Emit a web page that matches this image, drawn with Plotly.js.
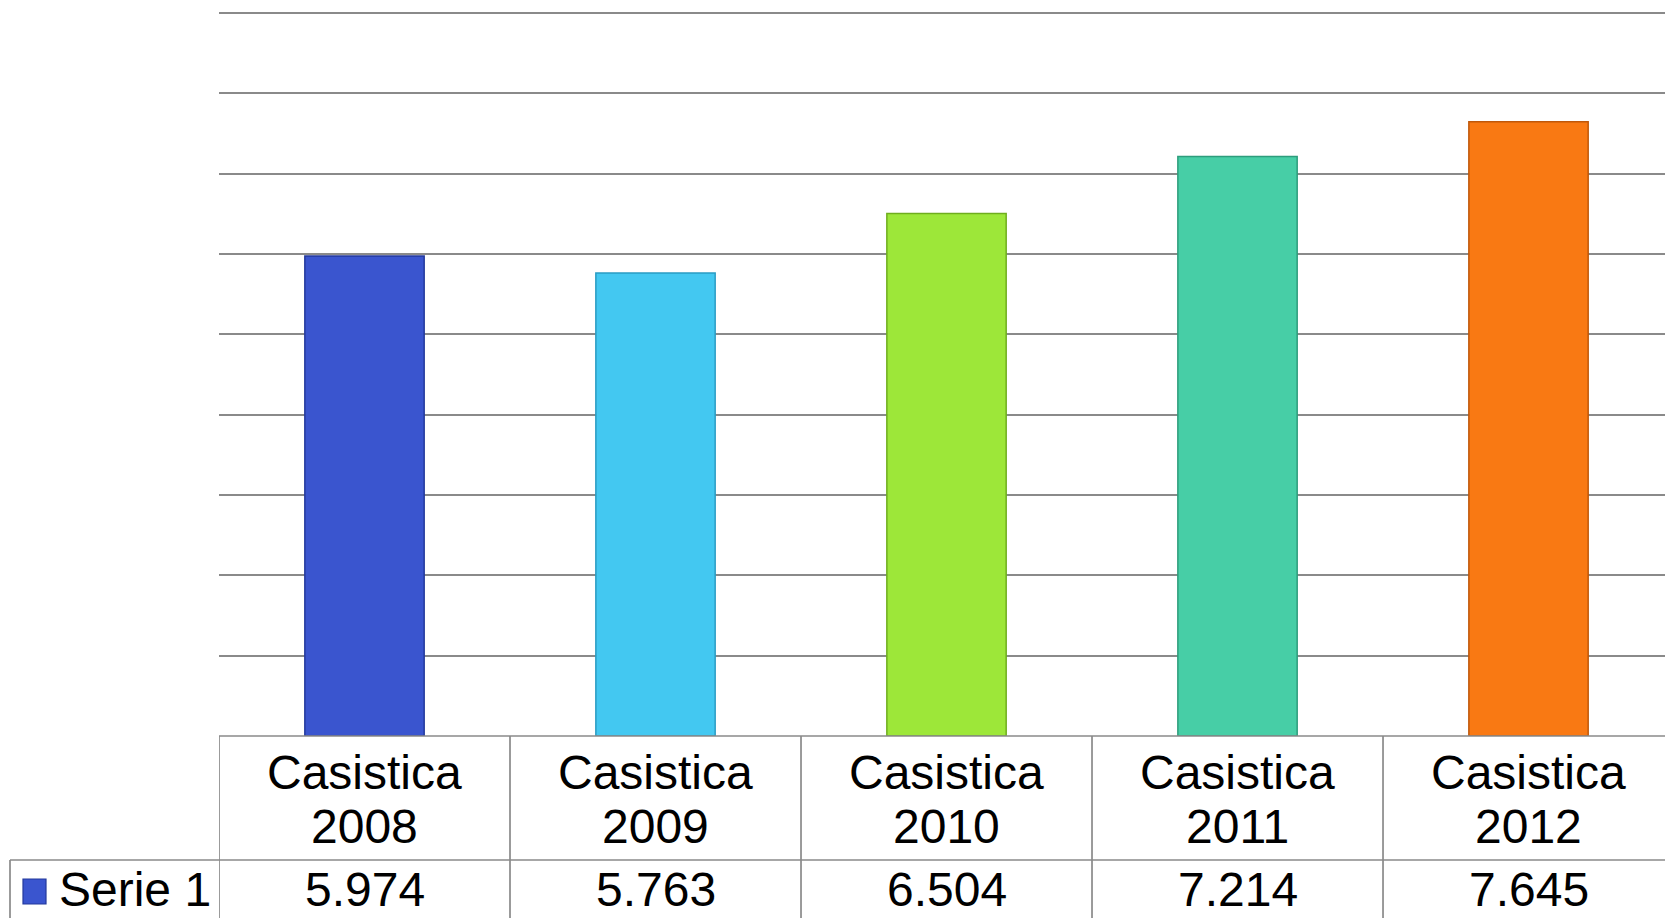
<!DOCTYPE html>
<html>
<head>
<meta charset="utf-8">
<script src="https://cdn.plot.ly/plotly-3.0.1.min.js"></script>
<style>
html,body{margin:0;padding:0;background:#fff;overflow:hidden;}
#chart{width:1665px;height:918px;}
</style>
</head>
<body>
<div id="chart"></div>
<script>
// ---- data ----
const categoryLine1 = ["Casistica", "Casistica", "Casistica", "Casistica", "Casistica"];
const categoryLine2 = ["2008", "2009", "2010", "2011", "2012"];
const seriesName = "Serie 1";
const seriesValues = [5974, 5763, 6504, 7214, 7645];
const barColors = ["#3a55cf", "#43c8f1", "#9de739", "#47cea6", "#f97913"];
const barEdges = ["#23399c", "#2a9cc4", "#6fae1e", "#2d9d7c", "#c0580a"];

// ---- geometry helpers (pixel -> paper) ----
const W = 1665, H = 918;
const mL = 219, mT = 8, mB = 182;
const plotW = W - mL, plotH = H - mT - mB;
const py = p => (H - mB - p) / plotH;
const pxp = p => (p - mL) / plotW;
// y range chosen so that the 9000 gridline sits 13px from the top
const yTop = 9000 * plotH / (H - mB - 13);

function fmt(v) {
  return String(v).replace(/\B(?=(\d{3})+(?!\d))/g, ".");
}

const xIdx = seriesValues.map((_, i) => i);

const trace = {
  type: "bar",
  x: xIdx,
  y: seriesValues,
  width: 0.41,
  marker: { color: barColors, line: { color: barEdges, width: 1.5 } },
  hoverinfo: "skip",
  showlegend: false
};

const lineStyle = { color: "#8a8a8a", width: 1.7 };
const shapes = [];
shapes.push({ type: "line", xref: "paper", yref: "paper", x0: 0, x1: 1, y0: py(736), y1: py(736), line: lineStyle, layer: "above" });
shapes.push({ type: "line", xref: "paper", yref: "paper", x0: pxp(10), x1: 1, y0: py(860), y1: py(860), line: lineStyle });
shapes.push({ type: "line", xref: "x", yref: "paper", x0: -0.5, x1: -0.5, y0: py(736), y1: py(H + 5), line: lineStyle });
for (let i = 0; i < xIdx.length - 1; i++) {
  shapes.push({ type: "line", xref: "x", yref: "paper", x0: xIdx[i] + 0.5, x1: xIdx[i] + 0.5, y0: py(736), y1: py(H + 5), line: lineStyle });
}
shapes.push({ type: "line", xref: "paper", yref: "paper", x0: pxp(10), x1: pxp(10), y0: py(860), y1: py(H + 5), line: lineStyle });
shapes.push({ type: "rect", xref: "paper", yref: "paper", x0: pxp(23), x1: pxp(46), y0: py(904), y1: py(879),
  fillcolor: barColors[0], line: { color: barEdges[0], width: 1.2 } });

const font = { family: "Liberation Sans, Arial, sans-serif", size: 48, color: "#000" };
const annotations = [];
xIdx.forEach((x, i) => {
  annotations.push({ x: x, xref: "x", y: py(772), yref: "paper", text: categoryLine1[i], showarrow: false, font: font, xanchor: "center", yanchor: "middle" });
  annotations.push({ x: x, xref: "x", y: py(826), yref: "paper", text: categoryLine2[i], showarrow: false, font: font, xanchor: "center", yanchor: "middle" });
  annotations.push({ x: x, xref: "x", y: py(890), yref: "paper", text: fmt(seriesValues[i]), showarrow: false, font: font, xanchor: "center", yanchor: "middle" });
});
annotations.push({ x: pxp(57), xref: "paper", y: py(890), yref: "paper", text: seriesName, showarrow: false, font: font, xanchor: "left", yanchor: "middle" });

const layout = {
  width: W, height: H,
  margin: { l: mL, r: 0, t: mT, b: mB, pad: 0 },
  paper_bgcolor: "#fff", plot_bgcolor: "#fff",
  xaxis: { range: [-0.5, 4.469], showgrid: false, zeroline: false, showticklabels: false, ticks: "", showline: false, fixedrange: true },
  yaxis: { range: [0, yTop], dtick: 1000, tick0: 0, showgrid: true, gridcolor: "#8a8a8a", gridwidth: 1.7, zeroline: false, showticklabels: false, ticks: "", showline: false, fixedrange: true },
  shapes: shapes,
  annotations: annotations,
  showlegend: false
};

Plotly.newPlot("chart", [trace], layout, { displayModeBar: false, staticPlot: true });
</script>
</body>
</html>
